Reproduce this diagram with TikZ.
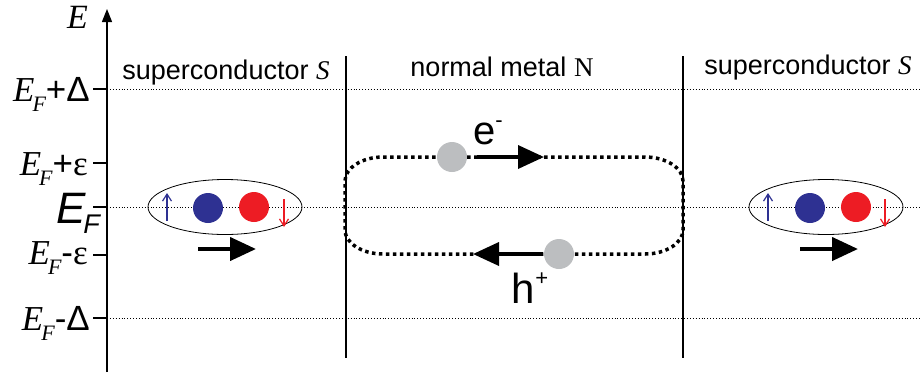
\documentclass[tikz,border=0pt]{standalone}
\usepackage{fontspec}
\setmainfont{Liberation Sans}
\newfontfamily\timesfont{Liberation Serif}
\usepackage{xcolor}
\usetikzlibrary{arrows.meta, positioning, shapes}

\definecolor{spinblue}{HTML}{2E3192}
\definecolor{spinred}{HTML}{ED1C24}
\definecolor{qgrey}{HTML}{BCBEC0}

\newcommand{\fermi}{{\timesfont\itshape E\hspace{-2pt}\raisebox{-10pt}{\fontsize{22}{22}\selectfont F}}}

\begin{document}
\begin{tikzpicture}[
x=1pt, y=-1pt,
level/.style={
dotted,
line width=0.9pt
},
tick/.style={
line width=1.3pt
},
wall/.style={
line width=1.3pt
},
region/.style={
anchor=base,
inner sep=0pt,
font=\fontsize{27}{28}\selectfont
},
elabel/.style={
anchor=base east,
inner sep=0pt,
font=\fontsize{35}{36}\selectfont
},
pair/.style={
ellipse,
draw,
line width=0.8pt,
minimum width=154pt,
minimum height=55pt,
inner sep=0pt
},
ball/.style={
circle,
minimum size=30pt,
inner sep=0pt
},
spin/.style={
-{Straight Barb[length=7pt,width=9pt]},
line width=1.2pt
},
move/.style={
-{Triangle[length=26pt,width=23pt]},
line width=4.2pt
},
orbit/.style={
line width=3.5pt,
dash pattern=on 3.5pt off 3.5pt
}
]

\useasboundingbox (0,0) rectangle (921,376);

% energy axis
\coordinate (axisbot) at (107,372);
\coordinate (axistop) at (107,9);
\draw[-{Triangle[length=13pt,width=10pt]}, line width=1.4pt] (axisbot) -- (axistop);
\node[elabel, font=\fontsize{34}{34}\selectfont] (E) at (88,28) {\timesfont\itshape E};

\coordinate (tickDp) at (93,89);
\coordinate (tickEp) at (93,163);
\coordinate (tickF) at (93,207);
\coordinate (tickEm) at (93,255);
\coordinate (tickDm) at (93,318);
\coordinate (axisDp) at (107,89);
\coordinate (axisEp) at (107,163);
\coordinate (axisF) at (107,207);
\coordinate (axisEm) at (107,255);
\coordinate (axisDm) at (107,318);
\coordinate (endDp) at (921,89);
\coordinate (endF) at (921,207);
\coordinate (endDm) at (921,318);

\draw[tick] (tickDp) -- (axisDp);
\draw[tick] (tickEp) -- (axisEp);
\draw[tick] (tickF) -- (axisF);
\draw[tick] (tickEm) -- (axisEm);
\draw[tick] (tickDm) -- (axisDm);

\draw[level] (axisDp) -- (endDp);
\draw[level] (axisF) -- (endF);
\draw[level] (axisDm) -- (endDm);

\node[elabel] (lDp) at (90,101) {\fermi+Δ};
\node[elabel] (lEp) at (88,175) {\fermi+{\timesfont ε}};
\node[elabel, font=\fontsize{44}{44}\selectfont] (lF) at (100,223) {\itshape E\hspace{-3pt}\raisebox{-10pt}{\fontsize{27}{27}\selectfont F}};
\node[elabel] (lEm) at (88,264) {\fermi-{\timesfont ε}};
\node[elabel] (lDm) at (90,330) {\fermi-Δ};

% interfaces
\coordinate (wallLtop) at (346,56);
\coordinate (wallLbot) at (346,358);
\coordinate (wallRtop) at (683,56);
\coordinate (wallRbot) at (683,358);
\draw[wall] (wallLtop) -- (wallLbot);
\draw[wall] (wallRtop) -- (wallRbot);

\node[region] (supL) at (226,79) {superconductor {\timesfont\itshape S}};
\node[region] (norm) at (502,76) {normal metal {\timesfont N}};
\node[region] (supR) at (808,74) {superconductor {\timesfont\itshape S}};

% Cooper pairs
\node[pair] (pairL) at (225,207) {};
\node[ball, fill=spinblue] (blueL) at (208,208) {};
\node[ball, fill=spinred] (redL) at (254,207) {};
\coordinate (upLa) at (167,221);
\coordinate (upLb) at (167,193);
\coordinate (dnLa) at (284,199);
\coordinate (dnLb) at (284,227);
\draw[spin, spinblue] (upLa) -- (upLb);
\draw[spin, spinred] (dnLa) -- (dnLb);
\coordinate (moveLa) at (198,249);
\coordinate (moveLb) at (256,249);
\draw[move] (moveLa) -- (moveLb);

\node[pair] (pairR) at (826,207) {};
\node[ball, fill=spinblue] (blueR) at (810,208) {};
\node[ball, fill=spinred] (redR) at (856,207) {};
\coordinate (upRa) at (768,221);
\coordinate (upRb) at (768,193);
\coordinate (dnRa) at (885,199);
\coordinate (dnRb) at (885,227);
\draw[spin, spinblue] (upRa) -- (upRb);
\draw[spin, spinred] (dnRa) -- (dnRb);
\coordinate (moveRa) at (800,249);
\coordinate (moveRb) at (858,249);
\draw[move] (moveRa) -- (moveRb);

% Andreev loop
\draw[orbit] (383,157) -- (645,157)
  .. controls (666,157) and (683,168) .. (683,181) -- (683,230)
  .. controls (683,243) and (666,254) .. (645,254) -- (383,254)
  .. controls (362,254) and (345,243) .. (345,230) -- (345,181)
  .. controls (345,168) and (362,157) .. (383,157) -- cycle;

\node[ball, fill=qgrey] (elec) at (452,157) {};
\coordinate (elecA) at (477,157);
\coordinate (elecB) at (544,157);
\draw[move, line width=3.6pt] (elecA) -- (elecB);
\node[anchor=base, inner sep=0pt, font=\fontsize{40}{40}\selectfont] (elab) at (488,144) {e\raisebox{17pt}{\fontsize{22}{22}\selectfont -}};

\node[ball, fill=qgrey] (hole) at (559,254) {};
\coordinate (holeA) at (543,254);
\coordinate (holeB) at (473,254);
\draw[move, line width=3.6pt] (holeA) -- (holeB);
\node[anchor=base, inner sep=0pt, font=\fontsize{42}{42}\selectfont] (hlab) at (530,303) {h\raisebox{18pt}{\fontsize{22}{22}\selectfont +}};

\end{tikzpicture}
\end{document}
